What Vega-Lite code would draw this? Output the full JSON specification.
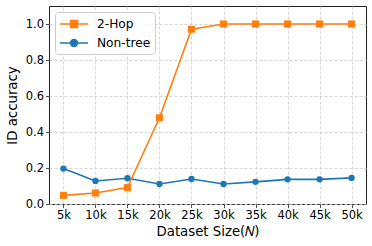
{
  "$schema": "https://vega.github.io/schema/vega-lite/v6.json",
  "width": 317,
  "height": 198,
  "autosize": {"type": "none"},
  "padding": {"left": 49, "top": 6, "right": 6, "bottom": 42},
  "background": "white",
  "config": {
    "font": "DejaVu Sans",
    "view": {"stroke": "#222222", "strokeWidth": 1},
    "axis": {
      "domain": false,
      "grid": true,
      "gridColor": "#cccccc",
      "gridDash": [3, 2],
      "gridWidth": 0.8,
      "tickColor": "#222222",
      "tickSize": 3.5,
      "tickWidth": 0.8,
      "labelFont": "DejaVu Sans",
      "labelFontSize": 11.5,
      "labelColor": "#000000",
      "labelPadding": 2,
      "titleFont": "DejaVu Sans",
      "titleFontSize": 13.3,
      "titleFontWeight": "normal",
      "titleColor": "#000000"
    },
    "legend": {
      "symbolStrokeWidth": 1.6,
      "symbolOffset": 7,
      "labelFont": "DejaVu Sans",
      "labelFontSize": 12.2,
      "labelColor": "#000000",
      "labelOffset": 15,
      "rowPadding": 4,
      "padding": 4,
      "fillColor": "rgba(255,255,255,0.8)",
      "strokeColor": "#cccccc",
      "strokeWidth": 1,
      "cornerRadius": 3
    }
  },
  "data": {
    "values": [
      {"n": 5, "series": "2-Hop", "acc": 0.048},
      {"n": 10, "series": "2-Hop", "acc": 0.061},
      {"n": 15, "series": "2-Hop", "acc": 0.091},
      {"n": 20, "series": "2-Hop", "acc": 0.479},
      {"n": 25, "series": "2-Hop", "acc": 0.971},
      {"n": 30, "series": "2-Hop", "acc": 1.0},
      {"n": 35, "series": "2-Hop", "acc": 1.0},
      {"n": 40, "series": "2-Hop", "acc": 1.0},
      {"n": 45, "series": "2-Hop", "acc": 1.0},
      {"n": 50, "series": "2-Hop", "acc": 1.0},
      {"n": 5, "series": "Non-tree", "acc": 0.197},
      {"n": 10, "series": "Non-tree", "acc": 0.128},
      {"n": 15, "series": "Non-tree", "acc": 0.143},
      {"n": 20, "series": "Non-tree", "acc": 0.111},
      {"n": 25, "series": "Non-tree", "acc": 0.139},
      {"n": 30, "series": "Non-tree", "acc": 0.111},
      {"n": 35, "series": "Non-tree", "acc": 0.123},
      {"n": 40, "series": "Non-tree", "acc": 0.137},
      {"n": 45, "series": "Non-tree", "acc": 0.137},
      {"n": 50, "series": "Non-tree", "acc": 0.145}
    ]
  },
  "encoding": {
    "x": {
      "field": "n",
      "type": "quantitative",
      "scale": {"domain": [2.75, 52.25], "nice": false, "zero": false},
      "axis": {
        "values": [5, 10, 15, 20, 25, 30, 35, 40, 45, 50],
        "labelExpr": "datum.value + 'k'",
        "title": "Dataset Size(𝑁)",
        "titlePadding": 3
      }
    },
    "y": {
      "field": "acc",
      "type": "quantitative",
      "scale": {"domain": [0, 1.1], "nice": false},
      "axis": {
        "values": [0, 0.2, 0.4, 0.6, 0.8, 1.0],
        "format": ".1f",
        "title": "ID accuracy",
        "titlePadding": 6
      }
    }
  },
  "layer": [
    {
      "transform": [{"filter": "datum.series == 'Non-tree'"}],
      "mark": {"type": "line", "strokeWidth": 1.6, "color": "#1f77b4"}
    },
    {
      "transform": [{"filter": "datum.series == 'Non-tree'"}],
      "mark": {"type": "point", "shape": "circle", "filled": true, "opacity": 1, "size": 40, "color": "#1f77b4"}
    },
    {
      "transform": [{"filter": "datum.series == '2-Hop'"}],
      "mark": {"type": "line", "strokeWidth": 1.6, "color": "#ff7f0e"}
    },
    {
      "transform": [{"filter": "datum.series == '2-Hop'"}],
      "mark": {"type": "point", "shape": "square", "filled": true, "opacity": 1, "size": 50, "color": "#ff7f0e"}
    },
    {
      "transform": [{"filter": "datum.acc > 5"}],
      "mark": {"type": "point", "opacity": 1, "strokeWidth": 1.6},
      "encoding": {
        "shape": {
          "field": "series",
          "type": "nominal",
          "scale": {
            "domain": ["2-Hop", "Non-tree"],
            "range": [
              "M-2,0L2,0M-0.5,-0.5L0.5,-0.5L0.5,0.5L-0.5,0.5Z",
              "M-2,0L2,0M0.48,0A0.48,0.48,0,1,1,-0.48,0A0.48,0.48,0,1,1,0.48,0Z"
            ]
          },
          "legend": {
            "title": null,
            "orient": "none",
            "legendX": 6,
            "legendY": 6,
            "symbolSize": 196
          }
        },
        "fill": {
          "field": "series",
          "type": "nominal",
          "scale": {"domain": ["2-Hop", "Non-tree"], "range": ["#ff7f0e", "#1f77b4"]},
          "legend": {
            "title": null,
            "orient": "none",
            "legendX": 6,
            "legendY": 6,
            "symbolSize": 196
          }
        },
        "stroke": {
          "field": "series",
          "type": "nominal",
          "scale": {"domain": ["2-Hop", "Non-tree"], "range": ["#ff7f0e", "#1f77b4"]},
          "legend": {
            "title": null,
            "orient": "none",
            "legendX": 6,
            "legendY": 6,
            "symbolSize": 196
          }
        }
      }
    }
  ]
}
